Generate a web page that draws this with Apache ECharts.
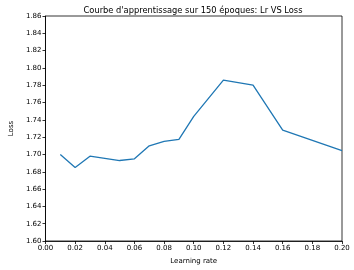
<!DOCTYPE html>
<html><head><meta charset="utf-8">
<script src="https://cdn.jsdelivr.net/npm/echarts@6/dist/echarts.min.js"></script>
<style>html,body{margin:0;padding:0;background:#fff}#c{width:354px;height:270px}</style>
</head><body><div id="c"></div>
<script>
const learningRates = [0.01, 0.02, 0.03, 0.05, 0.06, 0.07, 0.08, 0.09, 0.10, 0.12, 0.14, 0.16, 0.20];
const lossValues = [1.700, 1.685, 1.698, 1.693, 1.695, 1.710, 1.715, 1.7175, 1.744, 1.786, 1.780, 1.728, 1.7045];
const titleText = "Courbe d'apprentissage sur 150 époques: Lr VS Loss";
const xName = "Learning rate";
const yName = "Loss";

const font = 'DejaVu Sans';
const chart = echarts.init(document.getElementById('c'), null, {renderer: 'canvas'});
const axisCommon = {
  axisLine: {show: true, onZero: false, lineStyle: {color: '#000', width: 0.8}},
  axisTick: {show: true, inside: false, length: 3, lineStyle: {color: '#000', width: 0.8}},
  splitLine: {show: false},
  axisLabel: {color: '#000', fontFamily: font, fontSize: 7, margin: 4}
};
chart.setOption({
  animation: false,
  title: {text: titleText, left: 188, top: 2, textAlign: 'center',
    textStyle: {fontFamily: font, fontSize: 8.3, fontWeight: 'normal', color: '#000'}},
  grid: {left: 35, right: 12, top: 16, bottom: 27, show: true, borderColor: '#000', borderWidth: 0.8},
  xAxis: Object.assign({}, axisCommon, {
    type: 'value', min: 0, max: 0.2, interval: 0.02,
    name: xName, nameLocation: 'middle', nameGap: 17,
    nameTextStyle: {fontFamily: font, fontSize: 7, color: '#000'},
    axisLabel: Object.assign({}, axisCommon.axisLabel, {formatter: v => v.toFixed(2)})
  }),
  yAxis: Object.assign({}, axisCommon, {
    type: 'value', min: 1.6, max: 1.86, interval: 0.02,
    name: yName, nameLocation: 'middle', nameGap: 26,
    nameTextStyle: {fontFamily: font, fontSize: 7, color: '#000'},
    axisLabel: Object.assign({}, axisCommon.axisLabel, {formatter: v => v.toFixed(2)})
  }),
  series: [{
    type: 'line',
    data: learningRates.map((x, i) => [x, lossValues[i]]),
    showSymbol: false,
    lineStyle: {color: '#1f77b4', width: 1.3},
    itemStyle: {color: '#1f77b4'}
  }]
});
</script></body></html>
